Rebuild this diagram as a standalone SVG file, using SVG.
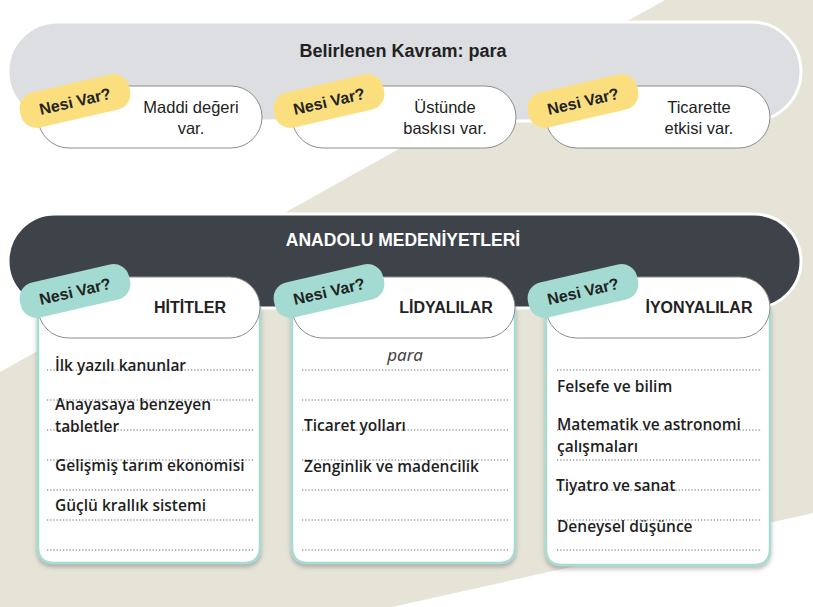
<svg xmlns="http://www.w3.org/2000/svg" width="813" height="607" viewBox="0 0 813 607">
<defs>
<filter id="sh" x="-10%" y="-10%" width="120%" height="125%">
<feDropShadow dx="0" dy="3" stdDeviation="2" flood-color="#6b6b6b" flood-opacity="0.45"/>
</filter>
<style>
.title{font-family:"Liberation Sans",Arial,sans-serif;font-weight:bold;font-size:17.5px;text-anchor:middle}
.pilltxt{font-family:"Liberation Sans",Arial,sans-serif;font-size:16.5px;fill:#222;text-anchor:middle}
.pill{fill:#fff;stroke:#8c8c8c;stroke-width:1}
.yb{fill:#fbdf7e}
.tb{fill:#a3dbd2}
.badge{font-family:"Liberation Sans",Arial,sans-serif;font-weight:bold;font-size:16px;fill:#222;text-anchor:middle}
.body{fill:#fff;stroke:#a6dcd3;stroke-width:2.5}
.head{font-family:"Liberation Sans",Arial,sans-serif;font-weight:bold;font-size:16px;fill:#222;text-anchor:middle}
.dot{stroke:#666;stroke-width:1.2;stroke-dasharray:1.2 2}
.ct{font-family:"Open Sans","DejaVu Sans",sans-serif;font-weight:600;font-size:15.5px;fill:#1e1e1e}
.hand{font-family:"Noto Sans","DejaVu Sans",sans-serif;font-style:italic;font-size:17px;fill:#444;text-anchor:middle}
</style>
</defs>
<rect x="0" y="0" width="813" height="607" fill="#ffffff"/>
<polygon points="665,0 813,0 813,513 392,607 0,607 0,372" fill="#e6e3d7"/>

<g id="top-banner">
<rect x="8" y="22" width="793" height="99" rx="49.5" fill="#dcdee2" stroke="#ffffff" stroke-width="3"/>
<text class="title" x="403" y="57" fill="#222" style="font-size:18px">Belirlenen Kavram: para</text>
</g>

<g id="node-maddi">
<rect class="pill" x="38" y="86" width="224" height="62" rx="31"/>
<text class="pilltxt" x="191" y="113">Maddi değeri</text>
<text class="pilltxt" x="191" y="134">var.</text>
<g transform="translate(75,101) rotate(-13)"><rect class="yb" x="-56" y="-18" width="112" height="36" rx="16"/><text class="badge" x="0" y="6">Nesi Var?</text></g>
</g>
<g id="node-ustunde">
<rect class="pill" x="292" y="86" width="224" height="62" rx="31"/>
<text class="pilltxt" x="445" y="113">Üstünde</text>
<text class="pilltxt" x="445" y="134">baskısı var.</text>
<g transform="translate(329,101) rotate(-13)"><rect class="yb" x="-56" y="-18" width="112" height="36" rx="16"/><text class="badge" x="0" y="6">Nesi Var?</text></g>
</g>
<g id="node-ticarette">
<rect class="pill" x="546" y="86" width="224" height="62" rx="31"/>
<text class="pilltxt" x="699" y="113">Ticarette</text>
<text class="pilltxt" x="699" y="134">etkisi var.</text>
<g transform="translate(583,101) rotate(-13)"><rect class="yb" x="-56" y="-18" width="112" height="36" rx="16"/><text class="badge" x="0" y="6">Nesi Var?</text></g>
</g>

<g id="banner-anadolu">
<rect x="8" y="214" width="793" height="94" rx="47" fill="#3e434a" stroke="#ffffff" stroke-width="3"/>
<text class="title" x="403" y="246" fill="#ffffff">ANADOLU MEDENİYETLERİ</text>
</g>

<g id="card-hititler">
<path class="body" filter="url(#sh)" d="M38,307 V547 Q38,563 54,563 H244 Q260,563 260,547 V307"/>
<rect class="pill" x="38" y="277" width="222" height="61" rx="30.5"/>
<g transform="translate(75,291) rotate(-13)"><rect class="tb" x="-56" y="-18" width="112" height="36" rx="16"/><text class="badge" x="0" y="6">Nesi Var?</text></g>
<text class="head" x="190" y="313">HİTİTLER</text>
<line class="dot" x1="47" y1="370" x2="253" y2="370"/>
<line class="dot" x1="47" y1="400" x2="253" y2="400"/>
<line class="dot" x1="47" y1="430" x2="253" y2="430"/>
<line class="dot" x1="47" y1="460" x2="253" y2="460"/>
<line class="dot" x1="47" y1="490" x2="253" y2="490"/>
<line class="dot" x1="47" y1="520" x2="253" y2="520"/>
<line class="dot" x1="47" y1="550" x2="253" y2="550"/>
<text class="ct" x="55" y="371">İlk yazılı kanunlar</text>
<text class="ct" x="55" y="410">Anayasaya benzeyen</text>
<text class="ct" x="55" y="432">tabletler</text>
<text class="ct" x="55" y="471">Gelişmiş tarım ekonomisi</text>
<text class="ct" x="55" y="511">Güçlü krallık sistemi</text>
</g>

<g id="card-lidyalilar">
<path class="body" filter="url(#sh)" d="M292,307 V547 Q292,563 308,563 H499 Q515,563 515,547 V307"/>
<rect class="pill" x="292" y="277" width="223" height="61" rx="30.5"/>
<g transform="translate(329,291) rotate(-13)"><rect class="tb" x="-56" y="-18" width="112" height="36" rx="16"/><text class="badge" x="0" y="6">Nesi Var?</text></g>
<text class="head" x="446" y="313">LİDYALILAR</text>
<line class="dot" x1="302" y1="370" x2="508" y2="370"/>
<line class="dot" x1="302" y1="400" x2="508" y2="400"/>
<line class="dot" x1="302" y1="430" x2="508" y2="430"/>
<line class="dot" x1="302" y1="460" x2="508" y2="460"/>
<line class="dot" x1="302" y1="490" x2="508" y2="490"/>
<line class="dot" x1="302" y1="520" x2="508" y2="520"/>
<line class="dot" x1="302" y1="550" x2="508" y2="550"/>
<text class="hand" x="405" y="361">para</text>
<text class="ct" x="304" y="431">Ticaret yolları</text>
<text class="ct" x="304" y="472">Zenginlik ve madencilik</text>
</g>

<g id="card-iyonyalilar">
<path class="body" filter="url(#sh)" d="M546,307 V549 Q546,565 562,565 H754 Q770,565 770,549 V307"/>
<rect class="pill" x="546" y="277" width="224" height="61" rx="30.5"/>
<g transform="translate(583,291) rotate(-13)"><rect class="tb" x="-56" y="-18" width="112" height="36" rx="16"/><text class="badge" x="0" y="6">Nesi Var?</text></g>
<text class="head" x="699" y="313">İYONYALILAR</text>
<line class="dot" x1="557" y1="370" x2="762" y2="370"/>
<line class="dot" x1="557" y1="430" x2="762" y2="430"/>
<line class="dot" x1="557" y1="460" x2="762" y2="460"/>
<line class="dot" x1="557" y1="490" x2="762" y2="490"/>
<line class="dot" x1="557" y1="520" x2="762" y2="520"/>
<line class="dot" x1="557" y1="550" x2="762" y2="550"/>
<text class="ct" x="557" y="392">Felsefe ve bilim</text>
<text class="ct" x="557" y="430">Matematik ve astronomi</text>
<text class="ct" x="557" y="452">çalışmaları</text>
<text class="ct" x="556" y="491">Tiyatro ve sanat</text>
<text class="ct" x="557" y="532">Deneysel düşünce</text>
</g>

<g id="connectors"></g>
</svg>
